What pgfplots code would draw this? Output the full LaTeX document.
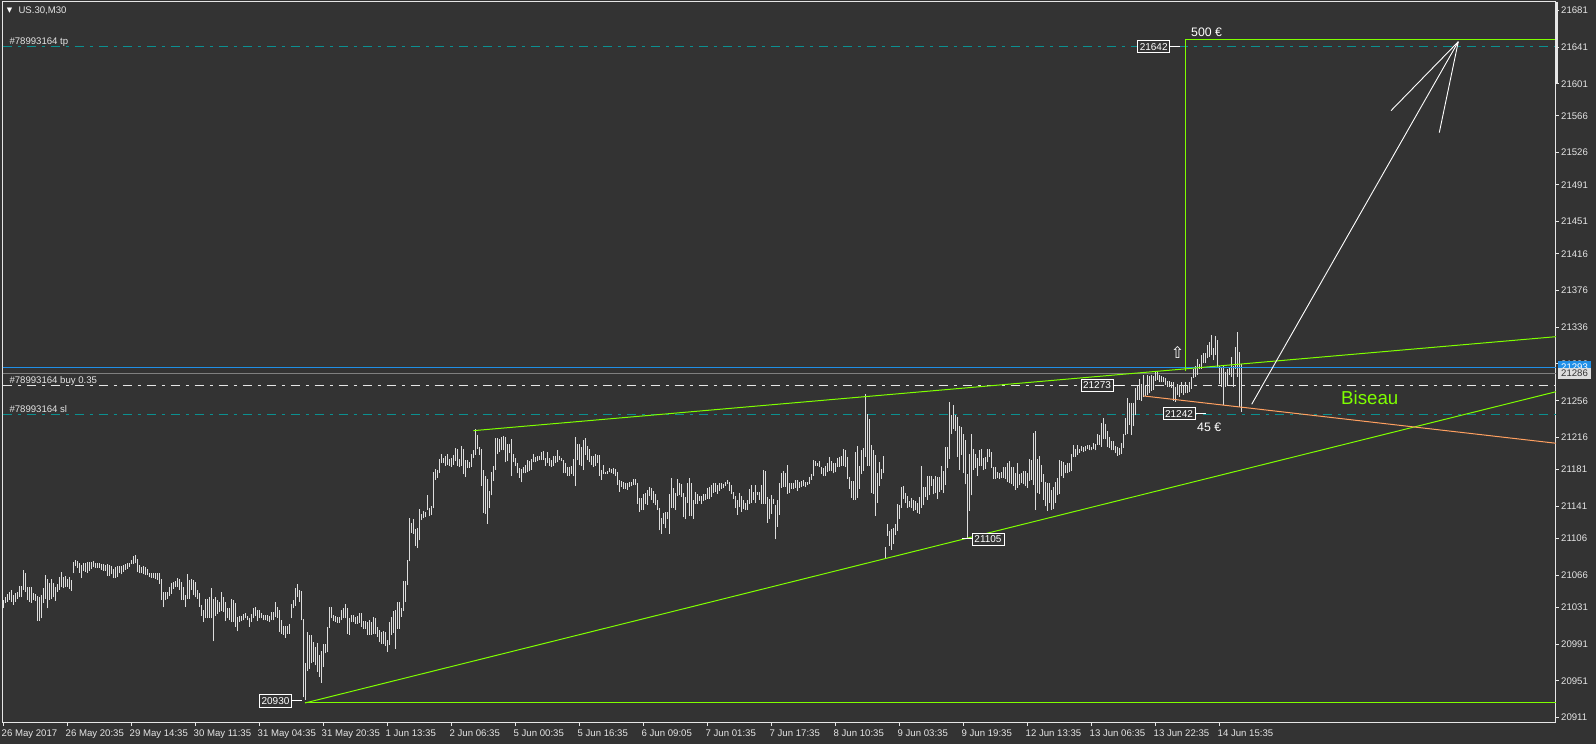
\documentclass[border=0pt]{standalone}
\usepackage{fontspec}
\setmainfont{Liberation Sans}
\newfontfamily\symfont{DejaVu Sans}
\usepackage{pgfplots}
\usepackage{pgfplotstable}
\pgfplotsset{compat=1.18}
\definecolor{bg}{HTML}{333333}
\definecolor{fg}{HTML}{E6E6E6}
\definecolor{barcol}{HTML}{DDDDDD}
\definecolor{lime}{HTML}{7FFF00}
\definecolor{tealline}{HTML}{0B9090}
\definecolor{blueline}{HTML}{2090E8}
\definecolor{orangeline}{HTML}{FFA060}
\newcommand{\smallf}{\fontsize{9.6}{11}\selectfont}

% bar low and high of each M30 bar
\pgfplotstableread{
low high
21030 21039
21036 21042
21037 21046
21039 21048
21037 21050
21034 21045
21037 21047
21040 21048
21042 21054
21042 21054
21050 21072
21048 21068
21039 21053
21037 21053
21036 21053
21039 21047
21038 21046
21016 21043
21016 21042
21019 21044
21036 21052
21040 21066
21030 21062
21039 21058
21040 21062
21042 21058
21038 21053
21048 21057
21050 21064
21053 21070
21052 21064
21053 21065
21053 21062
21051 21064
21049 21061
21068 21080
21076 21083
21074 21082
21069 21079
21063 21077
21071 21079
21070 21079
21069 21080
21071 21080
21073 21080
21075 21081
21074 21079
21074 21079
21074 21079
21072 21078
21071 21078
21071 21077
21065 21078
21065 21077
21067 21076
21063 21073
21063 21075
21064 21076
21068 21076
21067 21076
21070 21077
21072 21078
21073 21079
21075 21079
21078 21083
21078 21087
21079 21088
21070 21084
21068 21077
21068 21075
21067 21076
21066 21075
21066 21073
21064 21069
21063 21068
21063 21068
21062 21068
21061 21068
21057 21068
21039 21062
21031 21048
21039 21048
21040 21048
21043 21053
21046 21058
21051 21059
21053 21060
21053 21063
21050 21062
21039 21059
21039 21053
21032 21044
21040 21067
21040 21061
21050 21062
21044 21061
21042 21059
21040 21050
21032 21047
21022 21034
21015 21028
21020 21040
21019 21040
21020 21042
21019 21052
20994 21040
21022 21042
21024 21039
21026 21037
21027 21048
21026 21042
21016 21037
21019 21030
21017 21030
21015 21040
21015 21039
21010 21036
21005 21021
21015 21022
21016 21022
21017 21024
21019 21025
21017 21022
21010 21020
21015 21024
21019 21030
21022 21031
21016 21028
21019 21028
21019 21025
21017 21023
21017 21023
21016 21023
21015 21022
21017 21026
21017 21026
21021 21037
21020 21031
21004 21028
21002 21017
21001 21011
20998 21011
21002 21011
21002 21013
21019 21035
21030 21039
21033 21052
21042 21057
21037 21050
21017 21049
20933 21018
20930 20970
20962 21004
20964 21001
20970 21001
20972 20993
20968 20988
20961 20992
20955 20979
20949 20984
20966 20991
20981 20991
20982 21010
21009 21031
21019 21031
21016 21023
21015 21022
21014 21021
21014 21021
21017 21028
21019 21030
21019 21035
21002 21030
21001 21019
21015 21023
21015 21023
21013 21021
21013 21022
21014 21025
21010 21025
21008 21016
21008 21016
21001 21015
21001 21017
21001 21015
21002 21021
21002 21020
20999 21010
20993 21006
20991 21004
20991 21005
20989 21004
20983 20995
20990 21015
21001 21021
21003 21027
20986 21028
21008 21037
21008 21037
21021 21030
21027 21060
21037 21060
21055 21083
21081 21128
21112 21123
21111 21127
21098 21116
21096 21117
21104 21138
21126 21133
21128 21136
21129 21135
21137 21153
21130 21139
21132 21141
21139 21178
21170 21182
21172 21181
21177 21193
21188 21198
21188 21194
21185 21196
21186 21198
21185 21193
21184 21194
21186 21197
21190 21205
21185 21203
21184 21193
21185 21207
21176 21203
21173 21191
21183 21191
21183 21189
21184 21198
21194 21202
21197 21225
21203 21219
21197 21206
21163 21203
21134 21181
21133 21174
21122 21171
21139 21158
21153 21178
21169 21185
21181 21215
21198 21215
21200 21214
21202 21217
21202 21218
21189 21217
21190 21209
21199 21209
21174 21214
21189 21198
21185 21194
21177 21188
21172 21183
21167 21182
21177 21184
21177 21186
21178 21192
21180 21190
21181 21193
21189 21198
21189 21195
21190 21196
21191 21196
21191 21200
21192 21201
21185 21194
21188 21200
21185 21194
21184 21192
21185 21196
21188 21196
21189 21202
21192 21196
21190 21194
21177 21192
21177 21188
21174 21184
21174 21184
21176 21185
21174 21193
21163 21217
21191 21209
21186 21209
21185 21206
21181 21213
21197 21215
21192 21207
21189 21203
21186 21196
21184 21196
21185 21198
21188 21197
21174 21197
21170 21181
21176 21186
21176 21178
21176 21179
21178 21183
21177 21182
21176 21183
21174 21182
21164 21178
21157 21170
21162 21169
21160 21167
21160 21166
21159 21166
21162 21167
21163 21168
21164 21171
21164 21171
21144 21166
21135 21150
21137 21150
21137 21154
21144 21156
21143 21159
21152 21162
21148 21161
21145 21158
21142 21154
21137 21148
21115 21139
21111 21128
21122 21134
21117 21135
21127 21135
21111 21155
21139 21172
21139 21161
21137 21156
21152 21171
21153 21166
21151 21165
21129 21156
21127 21151
21145 21166
21131 21172
21131 21166
21127 21148
21144 21157
21144 21154
21147 21152
21144 21152
21147 21154
21148 21154
21149 21161
21149 21162
21151 21164
21156 21166
21157 21166
21155 21164
21158 21166
21160 21166
21161 21165
21163 21168
21165 21170
21158 21168
21154 21164
21149 21157
21139 21152
21132 21148
21140 21156
21135 21152
21138 21148
21137 21145
21137 21148
21144 21160
21145 21164
21148 21157
21145 21164
21153 21157
21148 21157
21144 21164
21144 21181
21144 21179
21123 21151
21127 21149
21133 21153
21144 21149
21105 21143
21119 21148
21132 21166
21161 21177
21162 21179
21162 21177
21155 21186
21156 21166
21160 21166
21160 21166
21161 21170
21158 21170
21161 21167
21162 21169
21163 21170
21162 21168
21164 21168
21165 21173
21170 21176
21174 21191
21185 21190
21185 21188
21184 21190
21176 21184
21174 21183
21174 21185
21178 21188
21180 21195
21179 21190
21177 21188
21178 21188
21184 21194
21184 21195
21185 21196
21185 21203
21184 21202
21171 21195
21160 21173
21150 21169
21148 21169
21148 21200
21150 21207
21160 21185
21176 21202
21180 21205
21195 21263
21185 21241
21185 21236
21156 21208
21155 21202
21131 21197
21145 21177
21163 21189
21171 21182
21177 21196
21085 21097
21109 21122
21098 21114
21094 21116
21100 21117
21110 21122
21114 21144
21127 21143
21139 21162
21149 21163
21145 21156
21139 21152
21140 21147
21139 21150
21136 21148
21137 21147
21134 21145
21133 21151
21139 21185
21142 21162
21151 21162
21148 21174
21153 21174
21163 21174
21154 21171
21156 21174
21149 21173
21157 21173
21159 21185
21156 21179
21164 21206
21183 21206
21193 21255
21220 21240
21225 21251
21223 21240
21195 21238
21181 21228
21197 21227
21177 21220
21165 21213
21107 21176
21136 21198
21153 21220
21181 21203
21183 21198
21174 21194
21185 21202
21185 21203
21181 21194
21182 21195
21189 21203
21195 21203
21183 21200
21171 21184
21171 21184
21172 21178
21171 21177
21172 21178
21172 21184
21171 21184
21168 21188
21166 21190
21165 21184
21163 21184
21159 21177
21161 21188
21164 21176
21166 21177
21165 21180
21163 21179
21161 21177
21169 21193
21170 21192
21164 21221
21137 21223
21156 21193
21154 21196
21168 21186
21148 21176
21141 21168
21136 21166
21145 21166
21137 21159
21138 21162
21145 21168
21153 21172
21154 21191
21174 21190
21172 21189
21177 21186
21177 21188
21178 21188
21180 21198
21195 21208
21195 21203
21197 21208
21199 21203
21201 21207
21200 21206
21201 21207
21203 21208
21202 21208
21202 21206
21203 21210
21202 21209
21208 21220
21208 21219
21206 21232
21214 21237
21214 21231
21206 21223
21205 21217
21202 21212
21202 21212
21199 21207
21196 21206
21197 21205
21198 21210
21205 21220
21219 21237
21220 21259
21230 21254
21219 21254
21228 21253
21240 21270
21257 21272
21257 21280
21256 21274
21260 21284
21261 21273
21262 21284
21264 21283
21267 21284
21268 21283
21278 21287
21279 21287
21276 21284
21276 21283
21276 21282
21273 21281
21271 21278
21271 21277
21270 21276
21256 21276
21255 21271
21262 21274
21260 21273
21264 21276
21262 21273
21264 21276
21264 21273
21266 21276
21269 21282
21281 21291
21282 21294
21284 21301
21290 21296
21291 21306
21297 21308
21297 21308
21302 21317
21304 21320
21306 21328
21300 21313
21306 21326
21293 21322
21274 21294
21271 21293
21251 21294
21271 21287
21273 21291
21284 21293
21282 21304
21271 21294
21291 21314
21282 21331
21249 21309
21244 21296
}\bars

\begin{document}
\begin{tikzpicture}[x=1pt,y=1pt]
\fill[bg] (0,0) rectangle (1596,744);
\path[use as bounding box] (0,0) rectangle (1596,744);
\begin{axis}[
    at={(2.5pt,21pt)}, anchor=south west,
    scale only axis,
    width=1553.5pt, height=721pt,
    xmin=-0.5, xmax=776.25,
    ymin=20905.2, ymax=21690,
    clip=false,
    axis line style={fg, line width=1pt},
    axis x line*=bottom,
    axis y line*=right,
    axis lines=box,
    tick style={fg, line width=1pt},
    tick align=outside,
    major tick length=3pt,
    xtick pos=lower,
    ytick pos=right,
    xtick={0,32,64,96,128,160,192,224,256,288,320,352,384,416,448,480,512,544,576,608},
    xticklabels={26 May 2017,26 May 20:35,29 May 14:35,30 May 11:35,31 May 04:35,31 May 20:35,1 Jun 13:35,2 Jun 06:35,5 Jun 00:35,5 Jun 16:35,6 Jun 09:05,7 Jun 01:35,7 Jun 17:35,8 Jun 10:35,9 Jun 03:35,9 Jun 19:35,12 Jun 13:35,13 Jun 06:35,13 Jun 22:35,14 Jun 15:35},
    ytick={21681,21641,21601,21566,21526,21491,21451,21416,21376,21336,21296,21256,21216,21181,21141,21106,21066,21031,20991,20951,20911},
    scaled y ticks=false,
    x tick label style={fg, font=\smallf, anchor=north west, xshift=-4pt, inner sep=2pt, yshift=-1.5pt},
    y tick label style={fg, font=\smallf, anchor=west, inner sep=2pt,
        /pgf/number format/1000 sep={}, /pgf/number format/assume math mode=true},
]
% order levels
\addplot[tealline, line width=1pt, dash pattern=on 9pt off 6pt on 3pt off 6pt, forget plot] coordinates {(-0.5,21642) (776.25,21642)};
\addplot[tealline, line width=1pt, dash pattern=on 9pt off 6pt on 3pt off 6pt, forget plot] coordinates {(-0.5,21241.5) (776.25,21241.5)};
\addplot[fg, line width=1pt, dash pattern=on 9pt off 6pt on 3pt off 6pt, forget plot] coordinates {(-0.5,21273) (776.25,21273)};
\addplot[gray, line width=1pt, forget plot] coordinates {(-0.5,21286) (776.25,21286)};

% price bars
\addplot[draw=none, mark=none, forget plot,
    error bars/.cd, y dir=plus, y explicit, error mark=none,
    error bar style={draw=barcol, line width=1pt, solid}]
    table [x expr=\coordindex, y=low, y error expr=\thisrow{high}-\thisrow{low}] {\bars};

\addplot[blueline, line width=1pt, forget plot] coordinates {(-0.5,21292.4) (776.25,21292.4)};

% drawn objects
\addplot[lime, line width=1pt, forget plot] coordinates {(234.9,21223.4) (776.25,21325.7)};
\addplot[lime, line width=1pt, forget plot] coordinates {(150.75,20927) (776.25,21265.8)};
\addplot[lime, line width=1pt, forget plot] coordinates {(150.75,20927) (776.25,20927)};
\addplot[lime, line width=1pt, forget plot] coordinates {(591,21288) (591,21649.4) (776.25,21649.4)};
\addplot[orangeline, line width=1pt, forget plot] coordinates {(570,21261.2) (776.25,21209.7)};
\addplot[white, line width=0.9pt, forget plot] coordinates {(624.1,21252.1) (727.4,21646.8)};
\addplot[white, line width=0.9pt, forget plot] coordinates {(693.75,21571.7) (727.4,21646.8)};
\addplot[white, line width=0.9pt, forget plot] coordinates {(717.9,21547.8) (727.4,21646.8)};

% connectors of the price labels
\addplot[white, line width=1pt, forget plot] coordinates {(583.25,21642.1) (588.25,21642.1)};
\addplot[white, line width=1pt, forget plot] coordinates {(554.75,21273.1) (560.25,21273.1)};
\addplot[white, line width=1pt, forget plot] coordinates {(595.75,21241.6) (601.25,21241.6)};
\addplot[white, line width=1pt, forget plot] coordinates {(479.25,21105.5) (484.25,21105.5)};
\addplot[white, line width=1pt, forget plot] coordinates {(144.25,20929.2) (149.25,20929.2)};

% scrollbar thumb on the price scale
\addplot[fg, line width=3pt, forget plot] coordinates {(776.6,21690) (776.6,21601)};

\tikzset{pricebox/.style={draw=white, fill=bg, line width=0.9pt, minimum width=32pt, minimum height=12pt, inner sep=0pt, text=white, font=\fontsize{10}{11}\selectfont},
         lbl/.style={anchor=west, inner sep=0pt, text=fg, font=\smallf}}
\node[pricebox] at (axis cs:575.1,21641.4) {21642};
\node[pricebox] at (axis cs:546.75,21273.1) {21273};
\node[pricebox] at (axis cs:587.75,21241.6) {21242};
\node[pricebox] at (axis cs:492.25,21105.5) {21105};
\node[pricebox] at (axis cs:136,20929.2) {20930};

\node[lbl] at (axis cs:2.9,21645.9) {\#78993164 tp};
\node[lbl] at (axis cs:2.9,21277.6) {\#78993164 buy 0.35};
\node[lbl] at (axis cs:2.9,21247) {\#78993164 sl};
\node[lbl] at (axis cs:7.4,21681) {US.30,M30};
\node[text=white, inner sep=0pt, font=\symfont\fontsize{7}{8}\selectfont] at (axis cs:3,21681) {▼};
\node[text=white, inner sep=0pt, font=\symfont\fontsize{16}{17}\selectfont] at (axis cs:587,21308) {⇧};

\node[anchor=west, inner sep=0pt, text=white, font=\fontsize{12.3}{14}\selectfont] at (axis cs:593.75,21657.4) {500 €};
\node[anchor=west, inner sep=0pt, text=white, font=\fontsize{12.3}{14}\selectfont] at (axis cs:596.75,21227.4) {45 €};
\node[anchor=west, inner sep=0pt, text=lime, font=\fontsize{18.7}{20}\selectfont] at (axis cs:668.75,21259) {Biseau};
\end{axis}
% price tags over the scale
\node[fill=blueline, text=white, minimum width=33pt, minimum height=11pt, inner sep=0pt, font=\smallf] at (1574.5,744-367) {21293};
\node[fill=barcol, text=bg, minimum width=33pt, minimum height=11pt, inner sep=0pt, font=\smallf] at (1574.5,744-373.5) {21286};
\end{tikzpicture}
\end{document}
